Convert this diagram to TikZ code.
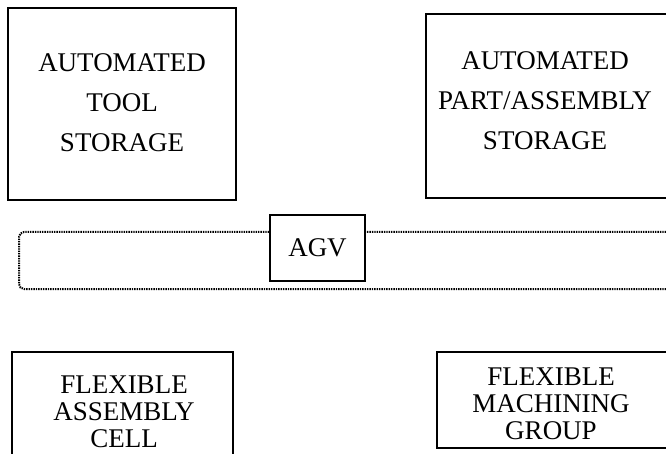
\documentclass[tikz,border=0pt]{standalone}
\usepackage{fontspec}
\setmainfont{Liberation Serif}
\begin{document}
\begin{tikzpicture}[x=1pt,y=-1pt,
  box/.style={draw=black,line width=1.9pt,rectangle,inner sep=0pt},
  lbl/.style={align=center,inner sep=0pt,font=\fontsize{27}{40}\selectfont},
  lblb/.style={lbl,font=\fontsize{27}{27}\selectfont},
  loop/.style={line width=2pt,dash pattern=on 1.4pt off 1pt,rounded corners=5pt}]
\clip (0,0) rectangle (666,454);
\fill[white] (0,0) rectangle (666,454);
\node[box,minimum width=228pt,minimum height=192pt] (ats) at (122,104) {};
\node[lbl] (atst) at (122,103) {AUTOMATED\\TOOL\\STORAGE};
\node[box,minimum width=244pt,minimum height=184pt] (aps) at (548,106) {};
\node[lbl] (apst) at (545,101) {AUTOMATED\\PART/ASSEMBLY\\STORAGE};
\node[box,minimum width=95pt,minimum height=66pt] (agv) at (317.5,248) {};
\node[lbl] (agvt) at (agv) {AGV};
\node[box,minimum width=221pt,minimum height=130pt] (fac) at (122.5,417) {};
\node[lblb] (fact) at (124,412) {FLEXIBLE\\ASSEMBLY\\CELL};
\node[box,minimum width=233pt,minimum height=96pt] (fmg) at (553.5,400) {};
\node[lblb] (fmgt) at (551,404) {FLEXIBLE\\MACHINING\\GROUP};
\coordinate (lt) at (19,232);
\coordinate (lb) at (19,289);
\coordinate (rb) at (680,289);
\coordinate (rt) at (680,232);
\draw[loop] (agv.west |- lt) -- (lt) -- (lb) -- (rb) -- (rt) -- (agv.east |- rt);
\end{tikzpicture}
\end{document}
